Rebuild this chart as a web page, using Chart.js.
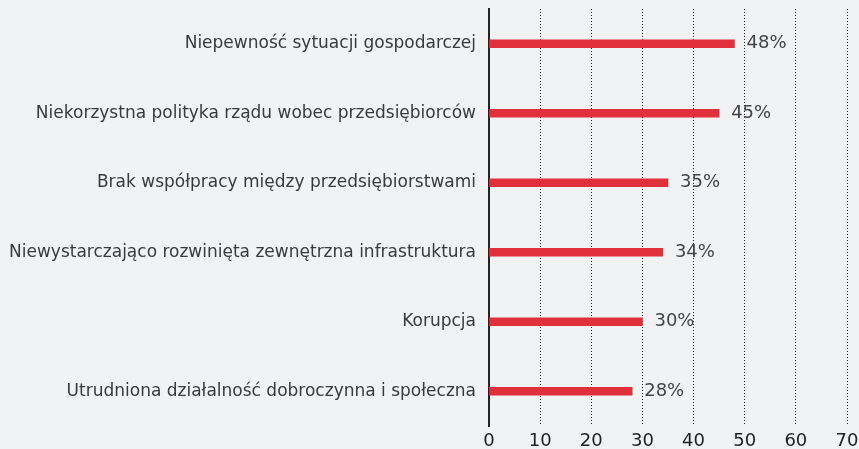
<!DOCTYPE html>
<html>
<head>
<meta charset="utf-8">
<script src="https://cdn.jsdelivr.net/npm/chart.js@4"></script>
<style>
  html, body { margin: 0; padding: 0; background: #f1f2f4; }
  #wrap { width: 859px; height: 449px; }
</style>
</head>
<body>
<div id="wrap"><canvas id="chart" width="859" height="449"></canvas></div>
<script>
const categories = [
  "Niepewność sytuacji gospodarczej",
  "Niekorzystna polityka rządu wobec przedsiębiorców",
  "Brak współpracy między przedsiębiorstwami",
  "Niewystarczająco rozwinięta zewnętrzna infrastruktura",
  "Korupcja",
  "Utrudniona działalność dobroczynna i społeczna"
];
const values = [48, 45, 35, 34, 30, 28];
const xTicks = [0, 10, 20, 30, 40, 50, 60, 70];

const valueLabels = {
  id: "valueLabels",
  afterDatasetsDraw(chart) {
    const ctx = chart.ctx;
    const meta = chart.getDatasetMeta(0);
    ctx.save();
    ctx.font = "18px 'DejaVu Sans'";
    ctx.fillStyle = "#444";
    ctx.textBaseline = "middle";
    ctx.textAlign = "left";
    meta.data.forEach((bar, i) => {
      ctx.fillText(values[i] + "%", bar.x + 12, bar.y);
    });
    ctx.restore();
  }
};

new Chart(document.getElementById("chart"), {
  type: "bar",
  data: {
    labels: categories,
    datasets: [{
      data: values,
      backgroundColor: "#e0303c",
      barThickness: 8,
      borderWidth: 0
    }]
  },
  options: {
    indexAxis: "y",
    responsive: false,
    animation: false,
    layout: { padding: { top: 9, right: 12, left: 0, bottom: 0 } },
    plugins: { legend: { display: false }, tooltip: { enabled: false } },
    scales: {
      x: {
        min: 0, max: 70,
        afterBuildTicks: (s) => { s.ticks = xTicks.map(v => ({ value: v })); },
        afterFit: (s) => { s.height = 23; s.paddingLeft = 0; s.paddingRight = 0; },
        grid: { color: "#222", lineWidth: 1, drawTicks: false },
        border: { display: false, dash: [1, 2] },
        ticks: { color: "#222", font: { family: "DejaVu Sans", size: 18 }, padding: 5 }
      },
      y: {
        afterFit: (s) => { s.width = 489; s.paddingTop = 0; s.paddingBottom = 0; },
        grid: { display: false },
        border: { display: true, color: "#222", width: 2 },
        ticks: { color: "#3a3a3a", font: { family: "DejaVu Sans", size: 17 }, padding: 5 }
      }
    }
  },
  plugins: [valueLabels]
});
</script>
</body>
</html>
